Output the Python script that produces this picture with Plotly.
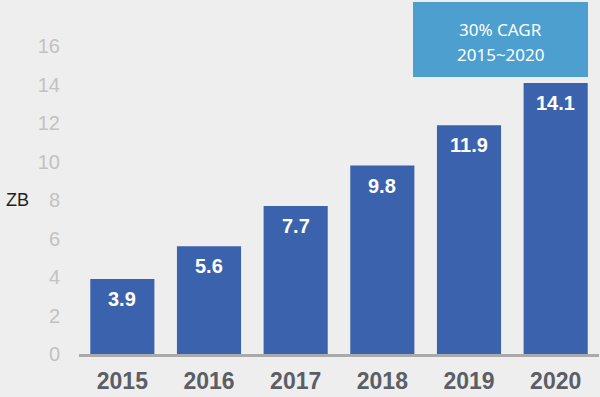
import plotly.graph_objects as go

years = ["2015", "2016", "2017", "2018", "2019", "2020"]
values = [3.9, 5.6, 7.7, 9.8, 11.9, 14.1]
labels = ["3.9", "5.6", "7.7", "9.8", "11.9", "14.1"]
ytick_vals = [0, 2, 4, 6, 8, 10, 12, 14, 16]
box_lines = ["30% CAGR", "2015~2020"]

BG = "#eeeeee"
BAR = "#3b62ad"

fig = go.Figure()
fig.add_trace(go.Bar(x=list(range(len(years))), y=values,
                     marker=dict(color=BAR, line=dict(width=0)), hoverinfo="skip"))

for i, (v, lab) in enumerate(zip(values, labels)):
    fig.add_annotation(x=i, y=v, xref="x", yref="y", text=f"<b>{lab}</b>", showarrow=False,
                       yshift=-20, font=dict(family="Liberation Sans, Arial", size=20, color="white"))

fig.add_annotation(xref="paper", yref="y", x=(17 - 79) / 520, y=8, text="ZB", showarrow=False,
                   xanchor="center",
                   font=dict(family="Liberation Sans Narrow, Liberation Sans", size=18, color="#222222"))

fig.add_shape(type="rect", xref="paper", yref="paper",
              x0=(413 - 79) / 520, x1=(588 - 79) / 520,
              y0=(397 - 43 - 77) / 346, y1=(397 - 43 - 2) / 346,
              fillcolor="#4c9fcf", line=dict(width=0), layer="above")
for line, yc in zip(box_lines, [29, 54.5]):
    fig.add_annotation(xref="paper", yref="paper", x=(500.5 - 79) / 520, y=(397 - 43 - yc) / 346,
                       xanchor="center", yanchor="middle",
                       text=line, showarrow=False, align="center",
                       font=dict(family="Noto Sans, Open Sans", size=17, color="white"))

fig.update_layout(
    width=600, height=397,
    margin=dict(l=79, r=1, t=8, b=43),
    paper_bgcolor=BG, plot_bgcolor=BG,
    bargap=0.26, showlegend=False,
    xaxis=dict(range=[-0.5, 5.5], showgrid=False, zeroline=False,
               tickvals=list(range(len(years))), ticktext=years,
               showline=True, linecolor="#aaaaaa", linewidth=3, ticks="",
               tickfont=dict(family="Liberation Sans, Arial", size=23, color="#5b5e66", weight="bold"),
               ticklabelstandoff=4),
    yaxis=dict(range=[0, 18], showgrid=False, zeroline=False, showline=False,
               tickvals=ytick_vals, ticktext=[str(v) for v in ytick_vals], ticks="",
               tickfont=dict(family="Liberation Sans, Arial", size=20, color="#c2c2c2"),
               ticklabelstandoff=18),
)

fig.write_html("out.html", config={"displayModeBar": False},
               post_script="document.body.style.margin='0';")
